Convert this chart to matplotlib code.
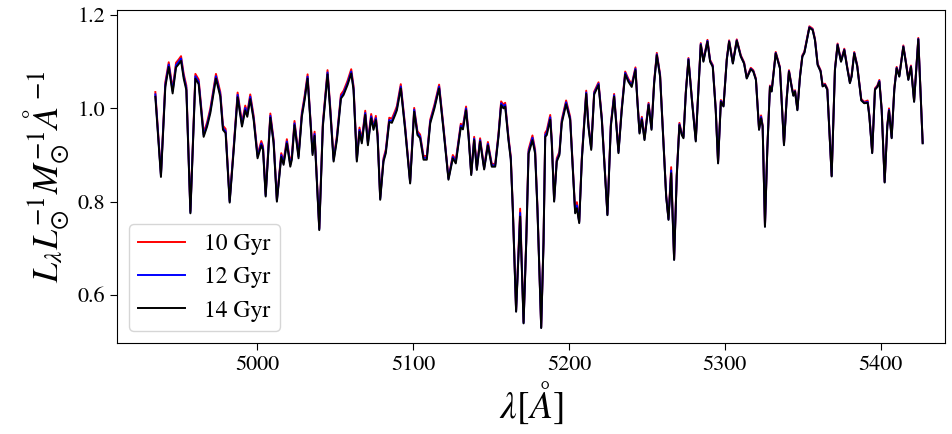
import matplotlib
matplotlib.use("Agg")
import matplotlib.pyplot as plt

plt.rcParams["font.family"] = "STIXGeneral"
plt.rcParams["mathtext.fontset"] = "stix"

wavelength = [
    4934.6, 4938.2, 4941.0, 4943.2, 4945.7, 4947.9, 4949.6, 4951.1, 4952.8, 4954.5,
    4957.1, 4960.3, 4962.4, 4965.6, 4967.8, 4969.9, 4973.5, 4976.3, 4978.0, 4979.7,
    4982.3, 4984.9, 4987.4, 4990.2, 4992.3, 4993.6, 4995.5, 4997.7, 5000.2, 5002.6,
    5003.7, 5005.4, 5008.4, 5010.5, 5012.6, 5015.4, 5016.9, 5019.0, 5021.2, 5022.2,
    5023.9, 5026.5, 5028.6, 5030.4, 5032.3, 5034.0, 5035.5, 5036.8, 5039.8, 5042.1,
    5045.1, 5046.8, 5049.0, 5051.1, 5053.7, 5055.4, 5057.9, 5060.3, 5061.8, 5063.9,
    5065.6, 5067.1, 5069.3, 5071.0, 5073.1, 5074.6, 5076.1, 5077.2, 5078.9, 5081.0,
    5082.5, 5084.7, 5086.4, 5088.5, 5089.6, 5092.1, 5094.9, 5098.1, 5100.7, 5102.8,
    5104.5, 5106.7, 5108.8, 5111.0, 5113.7, 5116.7, 5119.5, 5122.7, 5125.5, 5127.4,
    5130.6, 5132.0, 5134.0, 5135.6, 5137.3, 5139.2, 5140.9, 5143.0, 5145.6, 5148.0,
    5150.5, 5152.7, 5154.8, 5156.5, 5158.0, 5159.1, 5161.2, 5162.7, 5164.0, 5166.1,
    5168.7, 5170.9, 5172.6, 5174.1, 5175.1, 5176.6, 5178.3, 5179.8, 5182.2, 5183.7,
    5184.8, 5185.8, 5188.0, 5189.0, 5190.5, 5192.2, 5193.9, 5195.4, 5198.2, 5200.8,
    5204.0, 5205.1, 5206.6, 5208.3, 5211.1, 5212.5, 5214.3, 5216.2, 5219.0, 5221.1,
    5224.7, 5226.9, 5229.0, 5231.8, 5233.9, 5236.1, 5238.2, 5240.3, 5242.7, 5244.0,
    5245.3, 5246.8, 5248.5, 5251.1, 5253.0, 5254.7, 5256.4, 5258.5, 5260.7, 5262.4,
    5263.9, 5265.6, 5267.5, 5269.2, 5270.9, 5272.4, 5273.5, 5275.0, 5276.7, 5278.9,
    5281.4, 5283.1, 5284.6, 5286.3, 5288.9, 5290.6, 5292.3, 5294.2, 5295.7, 5297.5,
    5299.2, 5301.3, 5302.8, 5305.2, 5307.7, 5310.3, 5312.4, 5314.1, 5316.7, 5318.3,
    5320.0, 5322.0, 5323.3, 5324.3, 5325.8, 5327.3, 5329.0, 5330.1, 5332.7, 5335.4,
    5338.0, 5339.7, 5341.2, 5342.9, 5344.0, 5345.1, 5346.6, 5348.3, 5349.8, 5351.1,
    5354.3, 5356.4, 5357.9, 5359.6, 5361.5, 5362.8, 5364.3, 5365.8, 5368.6, 5370.7,
    5372.4, 5374.6, 5376.7, 5378.6, 5380.3, 5381.4, 5383.1, 5385.0, 5387.6, 5389.5,
    5391.7, 5392.8, 5394.6, 5396.4, 5397.9, 5399.2, 5400.7, 5402.6, 5404.3, 5405.4,
    5407.1, 5408.8, 5410.3, 5412.0, 5414.6, 5416.3, 5417.8, 5419.5, 5421.5, 5424.2,
    5427.0,
]

flux_10gyr = [
    1.035, 0.859, 1.056, 1.099, 1.042, 1.098, 1.105, 1.112, 1.074, 1.049,
    0.780, 1.074, 1.062, 0.948, 0.970, 1.000, 1.074, 1.035, 0.963, 0.956,
    0.803, 0.919, 1.034, 0.970, 1.006, 0.991, 1.030, 0.984, 0.901, 0.930,
    0.919, 0.816, 0.989, 0.933, 0.805, 0.904, 0.887, 0.934, 0.883, 0.898,
    0.973, 0.901, 0.991, 1.027, 1.073, 0.983, 0.908, 0.950, 0.743, 0.970,
    1.082, 1.005, 0.893, 0.941, 1.030, 1.038, 1.059, 1.084, 1.048, 0.893,
    0.959, 0.933, 0.995, 0.929, 0.988, 0.962, 0.984, 0.947, 0.809, 0.893,
    0.912, 0.980, 0.978, 0.995, 1.005, 1.052, 0.962, 0.844, 1.001, 0.951,
    0.944, 0.898, 0.898, 0.976, 1.008, 1.051, 0.961, 0.851, 0.900, 0.889,
    0.967, 0.963, 1.004, 0.946, 0.861, 0.939, 0.873, 0.936, 0.874, 0.928,
    0.881, 0.881, 0.946, 1.015, 1.008, 1.012, 0.939, 0.897, 0.787, 0.567,
    0.785, 0.542, 0.718, 0.912, 0.924, 0.942, 0.912, 0.788, 0.531, 0.716,
    0.948, 0.953, 0.986, 0.933, 0.805, 0.893, 0.907, 0.976, 1.017, 0.982,
    0.780, 0.799, 0.758, 0.896, 1.038, 0.967, 0.917, 1.036, 1.056, 0.981,
    0.774, 0.967, 1.031, 0.909, 1.002, 1.079, 1.063, 1.052, 1.088, 1.016,
    0.951, 0.982, 0.937, 1.012, 0.959, 1.059, 1.119, 1.073, 0.929, 0.814,
    0.764, 0.874, 0.677, 0.858, 0.969, 0.947, 0.940, 1.036, 1.108, 1.022,
    0.933, 1.044, 1.140, 1.104, 1.147, 1.104, 1.093, 1.000, 0.885, 1.018,
    1.007, 1.107, 1.146, 1.099, 1.148, 1.114, 1.099, 1.067, 1.087, 1.082,
    1.064, 0.957, 0.985, 0.964, 0.748, 0.914, 1.049, 1.039, 1.121, 1.089,
    0.924, 1.021, 1.082, 1.049, 1.030, 1.039, 0.999, 1.071, 1.114, 1.122,
    1.176, 1.171, 1.149, 1.096, 1.082, 1.050, 1.053, 1.043, 0.856, 1.085,
    1.139, 1.103, 1.128, 1.089, 1.057, 1.071, 1.121, 1.093, 1.020, 1.014,
    1.017, 0.986, 0.906, 1.043, 1.049, 1.061, 0.999, 0.843, 0.964, 1.000,
    0.939, 1.043, 1.089, 1.071, 1.135, 1.099, 1.064, 1.092, 1.017, 1.151,
    0.927,
]

flux_12gyr = [
    1.030, 0.856, 1.051, 1.094, 1.037, 1.093, 1.100, 1.107, 1.069, 1.044,
    0.777, 1.069, 1.057, 0.943, 0.965, 0.995, 1.069, 1.030, 0.958, 0.951,
    0.800, 0.915, 1.029, 0.965, 1.001, 0.986, 1.025, 0.979, 0.897, 0.925,
    0.915, 0.813, 0.984, 0.929, 0.802, 0.900, 0.883, 0.929, 0.879, 0.894,
    0.968, 0.897, 0.986, 1.022, 1.068, 0.979, 0.904, 0.945, 0.741, 0.965,
    1.077, 1.000, 0.889, 0.936, 1.025, 1.033, 1.054, 1.079, 1.043, 0.889,
    0.954, 0.929, 0.990, 0.925, 0.983, 0.958, 0.979, 0.943, 0.806, 0.889,
    0.908, 0.975, 0.973, 0.990, 1.000, 1.047, 0.958, 0.841, 0.997, 0.947,
    0.940, 0.894, 0.894, 0.972, 1.004, 1.047, 0.957, 0.849, 0.896, 0.885,
    0.963, 0.959, 1.000, 0.942, 0.859, 0.935, 0.870, 0.932, 0.871, 0.924,
    0.878, 0.878, 0.942, 1.011, 1.004, 1.008, 0.935, 0.893, 0.784, 0.565,
    0.776, 0.540, 0.714, 0.907, 0.919, 0.937, 0.907, 0.785, 0.530, 0.713,
    0.943, 0.948, 0.981, 0.929, 0.802, 0.889, 0.903, 0.972, 1.013, 0.978,
    0.777, 0.792, 0.756, 0.893, 1.034, 0.964, 0.914, 1.033, 1.053, 0.978,
    0.772, 0.964, 1.028, 0.906, 0.999, 1.076, 1.060, 1.049, 1.085, 1.013,
    0.948, 0.979, 0.934, 1.009, 0.956, 1.056, 1.116, 1.070, 0.927, 0.812,
    0.762, 0.867, 0.676, 0.856, 0.966, 0.945, 0.938, 1.034, 1.106, 1.020,
    0.931, 1.042, 1.138, 1.102, 1.145, 1.102, 1.091, 0.998, 0.883, 1.016,
    1.005, 1.105, 1.144, 1.097, 1.146, 1.112, 1.097, 1.065, 1.085, 1.080,
    1.062, 0.955, 0.982, 0.962, 0.747, 0.912, 1.047, 1.037, 1.119, 1.087,
    0.922, 1.019, 1.080, 1.047, 1.028, 1.037, 0.997, 1.069, 1.112, 1.120,
    1.174, 1.169, 1.147, 1.094, 1.080, 1.048, 1.051, 1.041, 0.855, 1.083,
    1.137, 1.101, 1.126, 1.087, 1.055, 1.069, 1.119, 1.091, 1.018, 1.012,
    1.014, 0.984, 0.905, 1.041, 1.047, 1.059, 0.997, 0.842, 0.962, 0.997,
    0.937, 1.041, 1.087, 1.069, 1.133, 1.097, 1.062, 1.090, 1.015, 1.149,
    0.926,
]

flux_14gyr = [
    1.025, 0.853, 1.046, 1.089, 1.032, 1.088, 1.095, 1.102, 1.064, 1.039,
    0.775, 1.064, 1.052, 0.939, 0.961, 0.990, 1.064, 1.025, 0.954, 0.947,
    0.798, 0.911, 1.024, 0.961, 0.996, 0.982, 1.020, 0.975, 0.893, 0.921,
    0.911, 0.811, 0.980, 0.925, 0.800, 0.896, 0.879, 0.925, 0.875, 0.890,
    0.964, 0.893, 0.982, 1.018, 1.064, 0.975, 0.900, 0.941, 0.739, 0.961,
    1.073, 0.996, 0.886, 0.932, 1.021, 1.029, 1.050, 1.075, 1.039, 0.886,
    0.950, 0.925, 0.986, 0.921, 0.979, 0.954, 0.975, 0.939, 0.804, 0.886,
    0.904, 0.971, 0.969, 0.986, 0.996, 1.043, 0.954, 0.839, 0.993, 0.943,
    0.936, 0.890, 0.890, 0.968, 1.000, 1.043, 0.954, 0.847, 0.893, 0.882,
    0.959, 0.955, 0.996, 0.939, 0.857, 0.932, 0.868, 0.929, 0.869, 0.921,
    0.875, 0.875, 0.939, 1.007, 1.000, 1.004, 0.932, 0.890, 0.782, 0.564,
    0.768, 0.539, 0.711, 0.903, 0.914, 0.932, 0.903, 0.782, 0.529, 0.711,
    0.939, 0.943, 0.976, 0.925, 0.800, 0.886, 0.900, 0.968, 1.009, 0.975,
    0.775, 0.786, 0.754, 0.890, 1.031, 0.961, 0.911, 1.030, 1.050, 0.975,
    0.771, 0.961, 1.025, 0.904, 0.996, 1.073, 1.057, 1.046, 1.082, 1.011,
    0.946, 0.976, 0.932, 1.007, 0.954, 1.054, 1.114, 1.068, 0.925, 0.811,
    0.761, 0.861, 0.675, 0.854, 0.964, 0.943, 0.936, 1.032, 1.104, 1.018,
    0.929, 1.040, 1.136, 1.100, 1.143, 1.100, 1.089, 0.996, 0.882, 1.014,
    1.004, 1.104, 1.143, 1.096, 1.145, 1.111, 1.096, 1.064, 1.084, 1.079,
    1.061, 0.954, 0.979, 0.961, 0.746, 0.911, 1.046, 1.036, 1.118, 1.086,
    0.921, 1.018, 1.079, 1.046, 1.027, 1.036, 0.996, 1.068, 1.111, 1.119,
    1.173, 1.168, 1.146, 1.093, 1.079, 1.047, 1.050, 1.040, 0.854, 1.082,
    1.136, 1.100, 1.125, 1.086, 1.054, 1.068, 1.118, 1.090, 1.017, 1.011,
    1.012, 0.982, 0.904, 1.040, 1.046, 1.057, 0.996, 0.841, 0.961, 0.995,
    0.936, 1.040, 1.086, 1.068, 1.132, 1.096, 1.061, 1.089, 1.014, 1.148,
    0.925,
]

ages = ["10 Gyr", "12 Gyr", "14 Gyr"]
colors = ["red", "blue", "black"]
x_ticks = [5000, 5100, 5200, 5300, 5400]
y_ticks = [0.6, 0.8, 1.0, 1.2]

fig = plt.figure(figsize=(9.52, 4.34), dpi=100)
ax = fig.add_axes([0.1229, 0.2097, 0.8697, 0.7673])

for flux, label, color in zip([flux_10gyr, flux_12gyr, flux_14gyr], ages, colors):
    ax.plot(wavelength, flux, color=color, lw=1.4, label=label)

ax.set_xlim(4910.0, 5441.3)
ax.set_ylim(0.497, 1.211)
ax.set_xticks(x_ticks)
ax.set_yticks(y_ticks)
ax.set_yticklabels([f"{v:.1f}" for v in y_ticks])
ax.tick_params(labelsize=16, length=5)

ax.set_xlabel(r"$\lambda[\AA]$", fontsize=27)
ax.set_ylabel(r"$L_{\lambda}L_{\odot}^{-1}M_{\odot}^{-1}\AA^{-1}$", fontsize=26)

ax.legend(loc="lower left", fontsize=17, handlelength=2.0)

fig.savefig("out.png", dpi=100)
